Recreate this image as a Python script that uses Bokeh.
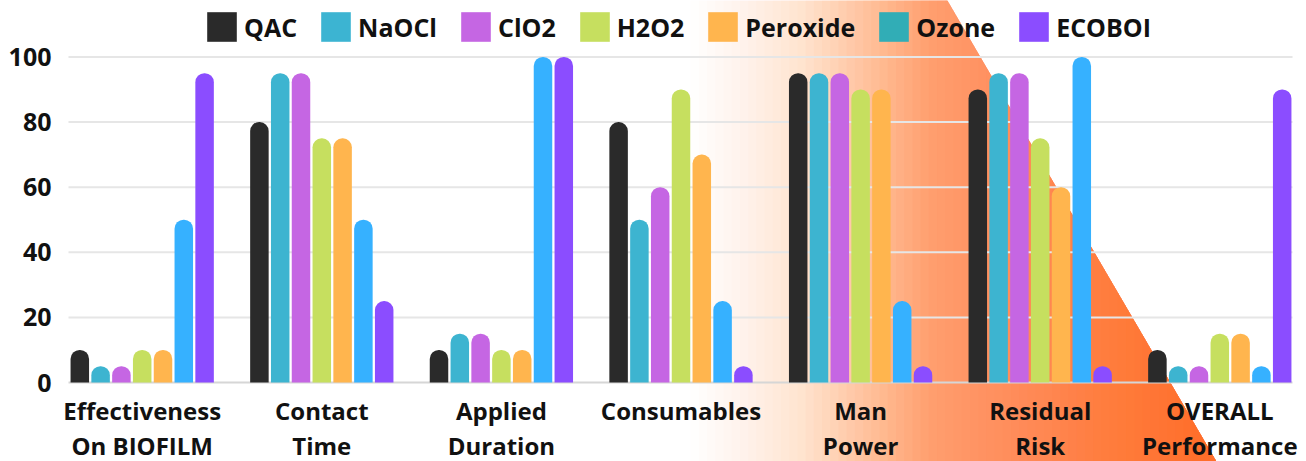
import numpy as np
from bokeh.plotting import figure
from bokeh.models import Range1d, Legend, LegendItem, PolyAnnotation
from bokeh.core.properties import value
from bokeh.embed import file_html
from bokeh.resources import INLINE

categories = ["Effectiveness\nOn BIOFILM", "Contact\nTime", "Applied\nDuration", "Consumables",
              "Man\nPower", "Residual\nRisk", "OVERALL\nPerformance"]
series = ["QAC", "NaOCl", "ClO2", "H2O2", "Peroxide", "Ozone", "ECOBOI"]
qac = [10, 80, 10, 80, 95, 90, 10]
naocl = [5, 95, 15, 50, 95, 95, 5]
clo2 = [5, 95, 15, 60, 95, 95, 5]
h2o2 = [10, 75, 10, 90, 90, 75, 15]
peroxide = [10, 75, 10, 70, 90, 60, 15]
ozone = [50, 50, 100, 25, 25, 100, 5]
ecoboi = [95, 25, 100, 5, 5, 5, 90]
values = [qac, naocl, clo2, h2o2, peroxide, ozone, ecoboi]
y_ticks = [0, 20, 40, 60, 80, 100]

bar_colors = ["#2a2a2a", "#3db4d0", "#c566e3", "#c6df5f", "#ffb54e", "#36b1ff", "#8b4dff"]
legend_colors = ["#2a2a2a", "#3cb4d2", "#c566e3", "#c6df5f", "#ffb54e", "#31adb6", "#8b4dff"]

FONT = "Open Sans"
TXT = "#111111"
W, H = 1306, 461


# the frame fills the whole canvas; these map canvas pixels to data units
def px2x(px):
    return (px - 141.7) / 179.6


def py2y(py):
    return (382.0 - py) / 3.256


p = figure(width=W, height=H, x_range=Range1d(px2x(0), px2x(W)), y_range=Range1d(py2y(H), py2y(0)),
           output_backend="svg", toolbar_location=None, x_axis_location=None, y_axis_location=None,
           min_border=0, min_border_left=0, min_border_right=0, min_border_top=0, min_border_bottom=0)
p.background_fill_color = "white"
p.border_fill_color = "white"
p.outline_line_color = None
p.grid.visible = False

# decorative orange gradient wedge: stacked translucent layers, right edge is a diagonal
x_top, x_bot = 947.0, 1216.0


def xd(py):
    return x_top + py * (x_bot - x_top) / H


knot_x = [690, 800, 870, 930, 1000, 1100, 1216]
knot_a = [0.0, 0.17, 0.40, 0.60, 0.68, 0.80, 0.92]
n = 64
edges = np.linspace(690, 1216, n + 1)[:-1]
prev = 0.0
for xm in edges:
    A = float(np.interp(xm + (1216 - 690) / n / 2, knot_x, knot_a))
    a = 1 - (1 - A) / (1 - prev)
    prev = A
    if a <= 0:
        continue
    if xm < x_top:
        pts = [(xm, -2.0), (xd(-2.0), -2.0), (xd(H + 2.0), H + 2.0), (xm, H + 2.0)]
    else:
        ym = (xm - x_top) * H / (x_bot - x_top)
        pts = [(xm, ym), (xd(H + 2.0), H + 2.0), (xm, H + 2.0)]
    p.add_layout(PolyAnnotation(xs=[px2x(x) for x, _ in pts], ys=[py2y(y) for _, y in pts],
                                xs_units="data", ys_units="data",
                                fill_color="#ff6a1f", fill_alpha=a,
                                line_color=None, level="underlay"))

# horizontal grid lines and baseline
grid_left, grid_right = px2x(68), px2x(1292)
p.segment(x0=[grid_left] * len(y_ticks), x1=[grid_right] * len(y_ticks), y0=y_ticks, y1=y_ticks,
          line_color=["#d6d6d6" if t == 0 else "#e6e6e6" for t in y_ticks], line_width=2)

# y tick labels
p.text(x=[px2x(51)] * len(y_ticks), y=y_ticks, text=[str(t) for t in y_ticks],
       text_align="right", text_baseline="middle", text_font=value(FONT),
       text_font_style="bold", text_font_size="25px", text_color=TXT)

# category labels (two lines)
line1 = [c.split("\n")[0] for c in categories]
line2 = [c.split("\n")[1] if "\n" in c else "" for c in categories]
idx = list(range(len(categories)))
for txt, py in ((line1, 410.0), (line2, 445.0)):
    p.text(x=idx, y=[py2y(py)] * len(idx), text=txt, text_align="center", text_baseline="middle",
           text_font=value(FONT), text_font_style="bold", text_font_size="24px", text_color=TXT)

# bars
pitch = 0.1158
for j, s in enumerate(series):
    xs = [i + (j - 3) * pitch for i in idx]
    p.vbar(x=xs, top=values[j], bottom=0, width=0.103, fill_color=bar_colors[j],
           line_color=None, border_radius=(9, 9, 0, 0))

# legend (zero-size proxy glyphs carry the legend colours)
items = []
for j, s in enumerate(series):
    r = p.quad(left=[0], right=[0], top=[0], bottom=[0], fill_color=legend_colors[j], line_color=None)
    items.append(LegendItem(label=s, renderers=[r]))

legend = Legend(items=items, orientation="horizontal", location=(203, 416),
                glyph_width=37, glyph_height=37, label_standoff=4, spacing=20,
                padding=0, margin=0, border_line_color=None, background_fill_alpha=0,
                label_text_font=FONT, label_text_font_style="bold", label_text_font_size="25px",
                label_text_color=TXT)
p.add_layout(legend, "center")

open("out.html", "w").write(file_html(p, INLINE))
